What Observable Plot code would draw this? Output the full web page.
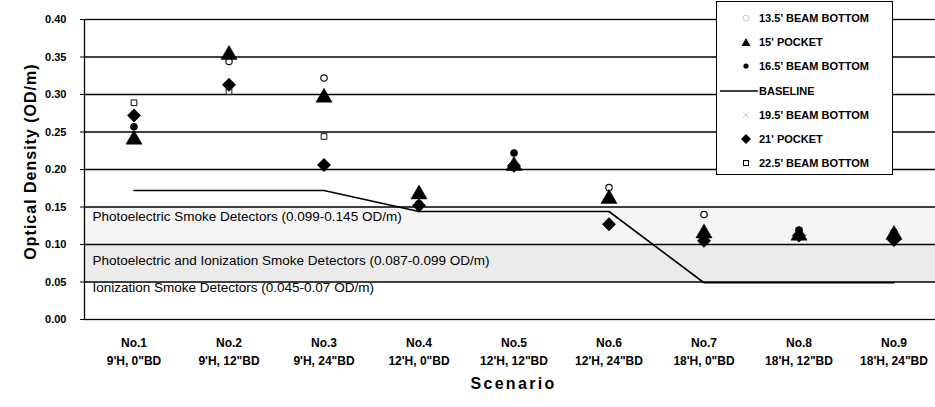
<!DOCTYPE html>
<html><head><meta charset="utf-8">
<script src="https://cdn.jsdelivr.net/npm/d3@7"></script>
<script src="https://cdn.jsdelivr.net/npm/@observablehq/plot@0.6"></script>
<style>
body{margin:0;background:#fff;font-family:"Liberation Sans",Arial,sans-serif}
#wrap{position:relative;width:935px;height:407px;overflow:hidden}
#legend{position:absolute;left:716px;top:1px;width:177px;height:174px;border:1px solid #000;background:#fff;box-sizing:border-box}
.row{position:absolute;left:0;height:16px;font:bold 11px "Liberation Sans",Arial,sans-serif;color:#000;white-space:nowrap}
.row span{position:absolute;left:42px;top:1px;line-height:14px}
.row svg{position:absolute;left:0;top:0}
</style></head><body><div id="wrap"></div>
<script>
// ---- data ----
const scenarios = ["No.1","No.2","No.3","No.4","No.5","No.6","No.7","No.8","No.9"];
const scenarioDetails = ["9'H, 0\"BD","9'H, 12\"BD","9'H, 24\"BD","12'H, 0\"BD","12'H, 12\"BD","12'H, 24\"BD","18'H, 0\"BD","18'H, 12\"BD","18'H, 24\"BD"];
const seriesNames = ["13.5' BEAM BOTTOM","15' POCKET","16.5' BEAM BOTTOM","BASELINE","19.5' BEAM BOTTOM","21' POCKET","22.5' BEAM BOTTOM"];
const beam135 = [0.257,0.344,0.322,0.154,0.222,0.176,0.140,0.119,0.116];
const pocket15 = [0.240,0.353,0.296,0.167,0.205,0.161,0.115,0.112,0.113];
const beam165 = [0.257,0.313,0.206,0.154,0.222,0.127,0.105,0.119,0.106];
const baseline = [0.172,0.172,0.172,0.144,0.144,0.144,0.049,0.049,0.049];
const beam195 = [0.289,0.304,0.244,0.154,0.205,0.161,0.118,0.112,0.116];
const pocket21 = [0.272,0.313,0.206,0.152,0.205,0.127,0.105,0.112,0.106];
const beam225 = [0.289,0.304,0.244,0.154,0.203,0.161,0.115,0.119,0.113];
const yTicks = [0,0.05,0.10,0.15,0.20,0.25,0.30,0.35,0.40];
const gridLines = [0.05,0.10,0.15,0.20,0.25,0.30,0.35];
const zoneLow = [0.10,0.05];
const zoneHigh = [0.15,0.10];
const zoneLabels = ["Photoelectric Smoke Detectors (0.099-0.145 OD/m)","Photoelectric and Ionization Smoke Detectors (0.087-0.099 OD/m)","Ionization Smoke Detectors (0.045-0.07 OD/m)"];
const zoneLabelY = [0.137,0.078,0.0425];
const yTitle = "Optical Density (OD/m)";
const xTitle = "Scenario";

// ---- build ----
const toRows = arr => scenarios.map((s,i)=>({scenario:s, value:arr[i]}));
const zones = zoneLow.map((lo,i)=>({y1:lo, y2:zoneHigh[i], k:i}));
const zoneText = zoneLabels.map((t,i)=>({t, y:zoneLabelY[i]}));

const seriesStyles = [
  {data:beam195, symbol:"times", r:2.6, stroke:"#444", fill:"none", strokeWidth:1},
  {data:beam135, symbol:"circle", r:3.2, stroke:"#111", fill:"white", strokeWidth:1.2},
  {data:beam225, symbol:"square", r:3.2, stroke:"#111", fill:"white", strokeWidth:1},
  {data:pocket21, symbol:"diamond2", r:6, stroke:"black", fill:"black", strokeWidth:0.5},
  {data:beam165, symbol:"circle", r:3, stroke:"black", fill:"black", strokeWidth:0.5},
  {data:pocket15, symbol:"triangle", r:6, stroke:"black", fill:"black", strokeWidth:0.5}
];

const chart = Plot.plot({
  width: 935, height: 407,
  marginLeft: 84, marginRight: -7, marginTop: 19, marginBottom: 88,
  style: {fontFamily: '"Liberation Sans", Arial, sans-serif', background: "white", color: "black"},
  x: {domain: scenarios, type: "band", padding: 0},
  y: {domain: [0, 0.40]},
  marks: [
    Plot.rect(zones, {y1:"y1", y2:"y2", fill: d => d.k === 0 ? "#f5f5f5" : "#ebebeb"}),
    Plot.ruleY(gridLines, {stroke:"black", strokeWidth:1.3}),
    Plot.frame({stroke:"black", strokeWidth:1.3}),
    Plot.text(zoneText, {frameAnchor:"left", dx:8, y:"y", text:"t", textAnchor:"start", fontSize:13.5, fill:"black"}),
    Plot.line(toRows(baseline), {x:"scenario", y:"value", stroke:"black", strokeWidth:1.6}),
    ...seriesStyles.map(s => Plot.dot(toRows(s.data), {x:"scenario", y:"value", symbol:s.symbol, r:s.r, stroke:s.stroke, fill:s.fill, strokeWidth:s.strokeWidth})),
    Plot.axisY({ticks: yTicks, tickFormat: d3.format(".2f"), tickSize: 4, tickPadding: 14, fontSize: 11, fontWeight: "bold", label: null}),
    Plot.axisX({tickSize: 0, tickPadding: 15, fontSize: 12, fontWeight: "bold", lineHeight: 1.5,
      tickFormat: d => d + "\n" + scenarioDetails[scenarios.indexOf(d)], label: null}),
    Plot.text([yTitle], {frameAnchor:"left", textAnchor:"middle", dx:-54, dy:-8, rotate:-90, fontSize:16, fontWeight:"bold", fill:"black"}),
    Plot.text([xTitle], {frameAnchor:"bottom", textAnchor:"middle", dy:69, fontSize:16, fontWeight:"bold", fill:"black"})
  ]
});
const wrap = document.getElementById("wrap");
wrap.appendChild(chart);
d3.select(chart).selectAll("text").each(function(){
  const t = this.textContent;
  if (t === yTitle) this.setAttribute("letter-spacing","1");
  if (t === xTitle) this.setAttribute("letter-spacing","2.3");
});

// ---- legend ----
const legend = document.createElement("div");
legend.id = "legend";
const legendMarkers = [
  '<circle cx="29" cy="8" r="3" fill="white" stroke="#ccc"/>',
  '<path d="M24.5,12 L29,4 L33.5,12 Z" fill="black"/>',
  '<circle cx="29" cy="8" r="2.6" fill="black"/>',
  '<line x1="3" y1="8" x2="41" y2="8" stroke="black" stroke-width="1.3"/>',
  '<path d="M26.5,5.5 L31.5,10.5 M31.5,5.5 L26.5,10.5" stroke="#ccc"/>',
  '<path d="M29,3 L34,8 L29,13 L24,8 Z" fill="black"/>',
  '<rect x="26.5" y="5.5" width="5" height="5" fill="white" stroke="black"/>'
];
seriesNames.forEach((name,i) => {
  const row = document.createElement("div");
  row.className = "row";
  row.style.top = (8 + i*24.2) + "px";
  row.style.width = "175px";
  row.innerHTML = '<svg width="44" height="16">' + legendMarkers[i] + '</svg><span>' + name + '</span>';
  legend.appendChild(row);
});
wrap.appendChild(legend);
</script>
</body></html>
